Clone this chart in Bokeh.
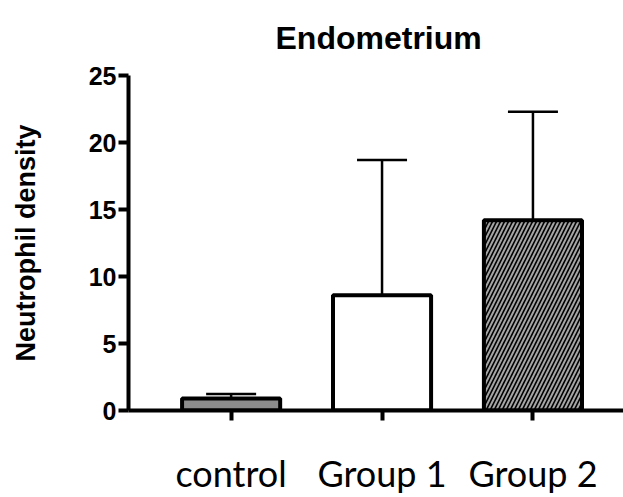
from bokeh.plotting import figure
from bokeh.models import (ColumnDataSource, FixedTicker, Whisker, TeeHead, Range1d)
from bokeh.embed import file_html
from bokeh.resources import INLINE

# ---- data ----
categories = ["control", "Group 1", "Group 2"]
means = [0.9, 8.6, 14.2]
sds = [0.33, 10.1, 8.1]
y_ticks = [0, 5, 10, 15, 20, 25]
title_text = "Endometrium"
y_label = "Neutrophil density"

xs = list(range(len(categories)))
uppers = [m + s for m, s in zip(means, sds)]

p = figure(width=623, height=497, output_backend="svg", toolbar_location=None,
           x_range=Range1d(-0.68, 2.6), y_range=Range1d(0, 25),
           min_border_left=128, min_border_top=75, min_border_bottom=87,
           min_border_right=0)
p.outline_line_color = None
p.xgrid.visible = False
p.ygrid.visible = False
p.background_fill_color = "white"

# title
p.title.text = title_text
p.title.text_font = "Liberation Sans"
p.title.text_font_style = "bold"
p.title.text_font_size = "32px"
p.title.align = "left"
p.title.offset = 147
p.title.vertical_align = "top"
p.title.standoff = 35
p.title.text_color = "black"

bar_w = 0.65
fills = ["#8c8c8c", "white", "#a4a4a4"]
hatches = [" ", " ", "/"]
src = ColumnDataSource(dict(x=xs, top=means, fill=fills, hatch=hatches,
                            lower=means, upper=uppers))
p.vbar(x="x", top="top", bottom=0, width=bar_w, source=src,
       fill_color="fill", line_color="black", line_width=4,
       hatch_pattern="hatch", hatch_color="black", hatch_scale=8, hatch_weight=1.6)

wh = Whisker(base="x", lower="lower", upper="upper", source=src,
             line_color="black", line_width=2.5,
             upper_head=TeeHead(size=50, line_color="black", line_width=2.5),
             lower_head=None)
p.add_layout(wh)

# x axis
xa = p.xaxis[0]
xa.ticker = FixedTicker(ticks=xs)
xa.major_label_overrides = {i: c for i, c in zip(xs, categories)}
xa.major_label_text_font = "Lato"
xa.major_label_text_font_size = "36px"
xa.major_label_text_color = "black"
xa.major_label_standoff = 30
xa.axis_line_width = 4
xa.axis_line_color = "black"
xa.major_tick_line_width = 4
xa.major_tick_out = 10
xa.major_tick_in = 0
xa.minor_tick_line_color = None

# y axis
ya = p.yaxis[0]
ya.ticker = FixedTicker(ticks=y_ticks)
ya.axis_label = y_label
ya.axis_label_text_font = "Liberation Sans"
ya.axis_label_text_font_style = "bold"
ya.axis_label_text_font_size = "27px"
ya.axis_label_text_color = "black"
ya.axis_label_standoff = 45
ya.major_label_text_font = "Liberation Sans"
ya.major_label_text_font_style = "bold"
ya.major_label_text_font_size = "25px"
ya.major_label_text_color = "black"
ya.major_label_standoff = 2
ya.axis_line_width = 4
ya.axis_line_color = "black"
ya.major_tick_line_width = 4
ya.major_tick_out = 10
ya.major_tick_in = 0
ya.minor_tick_line_color = None

open("out.html", "w").write(file_html(p, INLINE))
